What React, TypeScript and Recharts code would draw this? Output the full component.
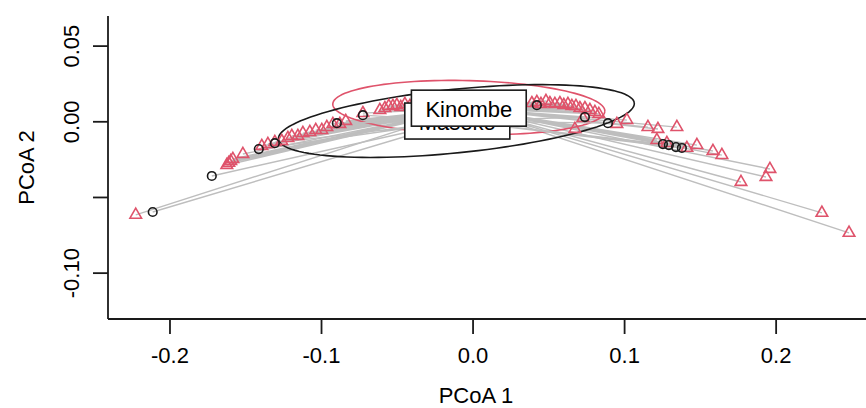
import React from 'react';
import { ScatterChart, Scatter, XAxis, YAxis } from 'recharts';

const FONT = '"Liberation Sans", Arial, Helvetica, sans-serif';
const RED = '#DF536B';
const SEG_GRAY = '#BEBEBE';
const INK = '#1a1a1a';

const xDomain = [-0.2409, 0.2593];
const yDomain = [-0.1303, 0.0699];
const xTicks = [-0.2, -0.1, 0, 0.1, 0.2];
const yTicks = [-0.1, -0.05, 0, 0.05];
const yTickLabels = ['-0.10', '', '0.00', '0.05'];

const groupNames = ['Kinombe', 'Maseko'];
const centroidX = [-0.0028, -0.0104];
const centroidY = [0.009, 0.0005];

// Kinombe sites (red triangles)
const kinombeX = [
  -0.2226, -0.1625, -0.1612, -0.1599, -0.1585, -0.1519, -0.1394, -0.1354, -0.1308, -0.1262,
  -0.1222, -0.1196, -0.1156, -0.1123, -0.1077, -0.1038, -0.0998, -0.0965, -0.0925, -0.0879,
  -0.084, -0.0727, -0.0615, -0.0582, -0.0556, -0.0529, -0.0503, -0.0477, -0.045, -0.0417,
  -0.0384, -0.0285, -0.0153, 0.0045, 0.021, 0.0388, 0.0421, 0.0448, 0.0481, 0.0507,
  0.054, 0.0573, 0.0599, 0.0626, 0.0652, 0.0679, 0.0705, 0.0738, 0.0771, 0.0804,
  0.083, 0.0672, 0.0725, 0.0949, 0.1015, 0.1154, 0.122, 0.1345, 0.1213, 0.1279,
  0.1411, 0.1477, 0.1583, 0.1642, 0.1959, 0.1933, 0.1768, 0.2302, 0.2481,
];
const kinombeY = [
  -0.0615, -0.0286, -0.0272, -0.0259, -0.0246, -0.0213, -0.016, -0.0147, -0.0134, -0.0127,
  -0.0108, -0.0094, -0.0094, -0.0075, -0.0068, -0.0055, -0.0055, -0.0035, -0.0015, -0.0015,
  0.0005, 0.0057, 0.0077, 0.009, 0.0104, 0.0104, 0.011, 0.0097, 0.0117, 0.0104,
  0.009, 0.011, 0.0123, 0.0117, 0.0104, 0.0123, 0.013, 0.0117, 0.0137, 0.0123,
  0.0117, 0.0123, 0.011, 0.0117, 0.0104, 0.0104, 0.009, 0.009, 0.0077, 0.0064,
  0.0051, -0.0048, 0.0024, -0.0015, 0.0011, -0.0035, -0.0048, -0.0035, -0.0121, -0.0141,
  -0.0173, -0.0154, -0.0193, -0.022, -0.0312, -0.0365, -0.0398, -0.0602, -0.0734,
];

// Maseko sites (black circles)
const masekoX = [-0.2114, -0.1724, -0.1414, -0.1308, -0.0899, -0.0727, 0.0421, 0.0738, 0.089, 0.1253, 0.1292, 0.1339, 0.1378];
const masekoY = [-0.0596, -0.0358, -0.018, -0.0141, -0.0009, 0.0044, 0.011, 0.0031, -0.0009, -0.0147, -0.0154, -0.0167, -0.0173];

// dispersion ellipses: centre, semi-axes, rotation in degrees
const ellipseCX = [-0.0028, -0.011];
const ellipseCY = [0.0094, 0.0005];
const ellipseA = [0.0898, 0.118];
const ellipseB = [0.0178, 0.021];
const ellipseRot = [-1.5, 5.8];

type Pt = { x: number; y: number; name?: string };

const zip = (xs: number[], ys: number[]): Pt[] => xs.map((x, i) => ({ x, y: ys[i] }));

const kinombe = zip(kinombeX, kinombeY);
const maseko = zip(masekoX, masekoY);

// centroid -> site -> centroid ... so a joined line gives one spoke per site
function spokes(sites: Pt[], g: number): Pt[] {
  const c = { x: centroidX[g], y: centroidY[g] };
  const out: Pt[] = [c];
  sites.forEach((p) => {
    out.push(p, c);
  });
  return out;
}

function ellipse(g: number): Pt[] {
  const t = (ellipseRot[g] * Math.PI) / 180;
  const pts: Pt[] = [];
  for (let i = 0; i <= 120; i++) {
    const a = (2 * Math.PI * i) / 120;
    const ex = ellipseA[g] * Math.cos(a);
    const ey = ellipseB[g] * Math.sin(a);
    pts.push({
      x: ellipseCX[g] + ex * Math.cos(t) - ey * Math.sin(t),
      y: ellipseCY[g] + ex * Math.sin(t) + ey * Math.cos(t),
    });
  }
  return pts;
}

const R = 4.3;

function Triangle(props: any) {
  const { cx, cy } = props;
  const r = 1.5551 * R;
  const xc = 1.3468 * R;
  const yc = 0.7776 * R;
  return (
    <polygon
      points={`${cx},${cy - r} ${cx + xc},${cy + yc} ${cx - xc},${cy + yc}`}
      fill="none"
      stroke={RED}
      strokeWidth={1.6}
    />
  );
}

function Circle(props: any) {
  return <circle cx={props.cx} cy={props.cy} r={R} fill="none" stroke={INK} strokeWidth={1.6} />;
}

const NoShape = () => <g />;

// Arial advance widths (em) for the label letters
const charW: Record<string, number> = {
  K: 0.667, M: 0.833, a: 0.556, b: 0.556, e: 0.556, i: 0.222, k: 0.5, m: 0.833, n: 0.556, o: 0.556, s: 0.5,
};

function CentroidLabel(props: any) {
  const { cx, cy, payload } = props;
  const name: string = payload.name;
  const fs = 22;
  const w = name.split('').reduce((s, ch) => s + (charW[ch] ?? 0.556), 0) * fs + 28;
  const h = 36;
  return (
    <g>
      <rect x={cx - w / 2} y={cy - h / 2} width={w} height={h} fill="#fff" stroke={INK} strokeWidth={1.6} />
      <text x={cx} y={cy + 8.5} textAnchor="middle" fontFamily={FONT} fontSize={fs} fill="#000">
        {name}
      </text>
    </g>
  );
}

function XTick(props: any) {
  const { x, y, payload } = props;
  return (
    <text x={x} y={y + 29} textAnchor="middle" fontFamily={FONT} fontSize={22} fill="#000">
      {Number(payload.value).toFixed(1)}
    </text>
  );
}

function YTick(props: any) {
  const { x, y, payload } = props;
  const label = yTickLabels[yTicks.indexOf(payload.value)] ?? '';
  const bx = x - 14;
  return (
    <text x={bx} y={y} transform={`rotate(-90, ${bx}, ${y})`} textAnchor="middle" fontFamily={FONT} fontSize={22} fill="#000">
      {label}
    </text>
  );
}

function XTitle(props: any) {
  const vb = props.viewBox;
  return (
    <text x={vb.x + vb.width / 2 - 11} y={vb.y + 84} textAnchor="middle" fontFamily={FONT} fontSize={22} fill="#000">
      PCoA 1
    </text>
  );
}

function YTitle(props: any) {
  const vb = props.viewBox;
  const bx = vb.x + 34;
  const cy = vb.y + vb.height / 2;
  return (
    <text x={bx} y={cy} transform={`rotate(-90, ${bx}, ${cy})`} textAnchor="middle" fontFamily={FONT} fontSize={22} fill="#000">
      PCoA 2
    </text>
  );
}

const frame = { stroke: INK, strokeWidth: 1.8 };

export default function App() {
  const labels: Pt[][] = groupNames.map((name, g) => [{ x: centroidX[g], y: centroidY[g], name }]);

  return (
    <div style={{ position: 'absolute', left: 0, top: 0, width: 866, height: 408, overflow: 'hidden', background: '#fff' }}>
      <ScatterChart width={866} height={408} margin={{ top: 16, right: 0, bottom: 0, left: 0 }}>
        <XAxis
          type="number"
          dataKey="x"
          domain={xDomain}
          ticks={xTicks}
          interval={0}
          allowDataOverflow
          height={89}
          tickSize={15}
          tickMargin={0}
          axisLine={frame}
          tickLine={frame}
          tick={<XTick />}
          label={<XTitle />}
        />
        <XAxis
          xAxisId="top"
          orientation="top"
          type="number"
          dataKey="x"
          domain={xDomain}
          allowDataOverflow
          height={0}
          tick={false}
          tickLine={false}
          axisLine={frame}
        />
        <YAxis
          type="number"
          dataKey="y"
          domain={yDomain}
          ticks={yTicks}
          interval={0}
          allowDataOverflow
          width={108}
          tickSize={15}
          tickMargin={0}
          axisLine={frame}
          tickLine={frame}
          tick={<YTick />}
          label={<YTitle />}
        />

        <Scatter data={spokes(kinombe, 0)} shape={NoShape} line={{ stroke: SEG_GRAY, strokeWidth: 1.4 }} isAnimationActive={false} />
        <Scatter data={ellipse(0)} shape={NoShape} line={{ stroke: RED, strokeWidth: 1.6 }} isAnimationActive={false} />
        <Scatter data={spokes(maseko, 1)} shape={NoShape} line={{ stroke: SEG_GRAY, strokeWidth: 1.4 }} isAnimationActive={false} />
        <Scatter data={ellipse(1)} shape={NoShape} line={{ stroke: INK, strokeWidth: 1.6 }} isAnimationActive={false} />

        <Scatter data={kinombe} shape={Triangle} isAnimationActive={false} />
        <Scatter data={maseko} shape={Circle} isAnimationActive={false} />

        <Scatter data={labels[1]} shape={CentroidLabel} isAnimationActive={false} />
        <Scatter data={labels[0]} shape={CentroidLabel} isAnimationActive={false} />
      </ScatterChart>
    </div>
  );
}
